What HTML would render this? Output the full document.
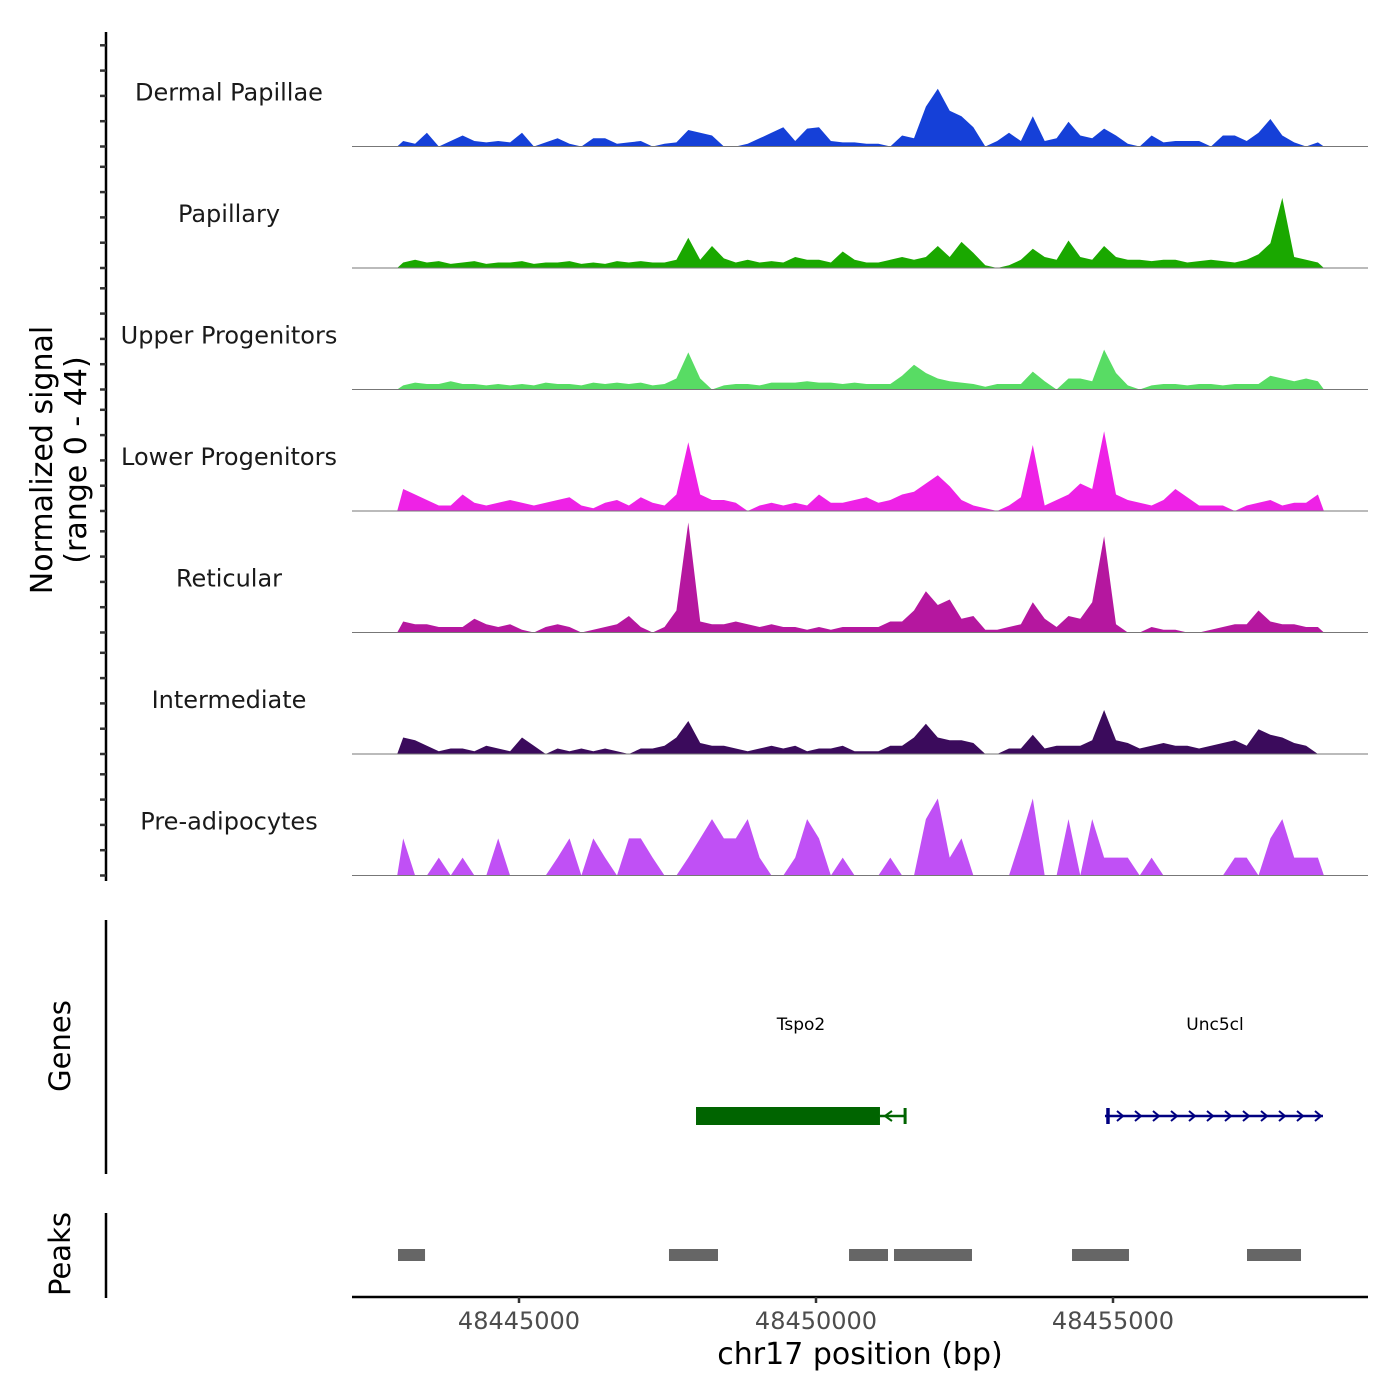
<!DOCTYPE html>
<html><head><meta charset="utf-8"><style>
html,body{margin:0;padding:0;background:#fff;}
svg{display:block;font-family:"DejaVu Sans","Liberation Sans",sans-serif;}
</style></head><body>
<svg id="chart" width="1400" height="1400" viewBox="0 0 1400 1400" xmlns="http://www.w3.org/2000/svg">
<g id="tracks"></g>
<g id="axes"></g>
<g id="genes"></g>
<g id="peaks"></g>
<text transform="translate(52,460) rotate(-90)" text-anchor="middle" font-size="30" fill="#000">Normalized signal</text>
<text transform="translate(86,460) rotate(-90)" text-anchor="middle" font-size="30" fill="#000">(range 0 - 44)</text>
<text transform="translate(70,1046) rotate(-90)" text-anchor="middle" font-size="29" fill="#000">Genes</text>
<text transform="translate(70,1254) rotate(-90)" text-anchor="middle" font-size="29" fill="#000">Peaks</text>
<text x="860" y="1364" text-anchor="middle" font-size="30" fill="#000">chr17 position (bp)</text>
</svg>
<script>
const NS='http://www.w3.org/2000/svg';
const trackNames=["Dermal Papillae","Papillary","Upper Progenitors","Lower Progenitors","Reticular","Intermediate","Pre-adipocytes"];
const trackColors=["#1540d8","#1aa800","#58dc64","#ee22e6","#b5179f","#3b0b5c","#c050f5"];
const binStart=48442950;
const binSize=200;
const dermalPapillae=[2,1,5,0,2,4,2,1.5,2,1.5,5,0,1.5,3,1,0,3,3,1,1.5,2,0,1,1.5,6,5,4,0,0,1,3,5,7,2,6.5,7,2,1.5,1.5,1,1,0,4,3,14.5,21,13,11,7,0,2,5,2,11,2,3,9,4,3,6.5,4,1,0,4,1.5,2,2,2,0,4,4,2,5,10,4,1.5,0,1.5];
const papillary=[2,3,2,2.5,1.5,2,2.5,1.5,2,2,2.5,1.5,2,2,2.5,1.5,2,1.5,2.5,2,2.5,2,2,3,11,3,8,3.5,2,3,2,2.5,2,4,3,3,2,6,3,2,2,3,4,3,4,8,4,9.5,5.5,1,0,1,3,7,4,3,10,4,3,8,4,3,3,2.5,3,3,2,2.5,3,2.5,2,3,5,9,25.5,4,3,2];
const upperProgenitors=[1.5,2.5,2,2,3,2,2,1.5,2,1.5,2,1.5,2.5,2,2,1.5,2.5,2,2.5,2,2.5,1.5,2,4,13.5,4,0,1.5,2,2,1.5,2.5,2.5,2.5,3,2.5,2.5,2,2.5,2,2,2,5,9,6,4,3,2.5,2,1,2,2,2,6.5,3,0,4,4,3,14.5,6,1.5,0,1.5,2,2,1.5,2,2,1.5,2,2,2,5,4,3,4,3];
const lowerProgenitors=[8,6,4,2,2,6,3,2,3,4,3,2,3,4,5,2,1,3,4,2,5,3,2,6,25,6,4,4,3,0,2,3,2,3,2,6,3,3,4,5,3,4,6,7,10,13,9,4,2,1,0,2,5,24,2,4,6,10,8,29,6,4,3,2,4,8,5,2,2,2,0,2,3,4,2,3,3,6];
const reticular=[4,3,3,2,2,2,5,3,2,3,1,0,2,3,2,0,1,2,3,6,2,0,2,8,40,4,3,3,4,3,2,3,2,2,1,2,1,2,2,2,2,4,4,8,15,10,12,5,6,1,1,2,3,11,5,2,6,5,11,35,3,0,0,2,1,1,0,0,1,2,3,3,8,4,3,3,2,2];
const intermediate=[6,5,3,1,2,2,1,3,2,1,6,3,0,2,1,2,1,2,1,0,2,2,3,6,12,4,3,3,2,1,2,3,2,3,1,2,2,3,1,1,1,3,3,6,11,6,5,5,4,0,0,2,2,7,2,3,3,3,5,16,5,4,2,3,4,3,3,2,3,4,5,3,9,7,6,4,3,0];
const preAdipocytes=[13.5,0,0,6.5,0,6.5,0,0,13.5,0,0,0,0,6.5,13.5,0,13.5,6.5,0,13.5,13.5,6.5,0,0,6.5,13.5,20.5,13.5,13.5,20.5,6.5,0,0,6.5,20.5,13.5,0,6.5,0,0,0,6.5,0,0,20.5,28,6.5,13.5,0,0,0,0,13.5,28,0,0,20.5,0,20.5,6.5,6.5,6.5,0,6.5,0,0,0,0,0,0,6.5,6.5,0,13.5,20.5,6.5,6.5,6.5];
const trackData=[dermalPapillae,papillary,upperProgenitors,lowerProgenitors,reticular,intermediate,preAdipocytes];
const trackSlugs=["dermal-papillae","papillary","upper-progenitors","lower-progenitors","reticular","intermediate","pre-adipocytes"];
const yTicks=[0,10,20,30,40];
const xTicks=[48445000,48450000,48455000];
const peakStarts=[48442963,48447525,48450556,48451313,48454310,48457256];
const peakEnds=[48443418,48448350,48451212,48452626,48455269,48458165];
const genes=["Tspo2","Unc5cl"];
const geneStarts=[48447980,48454865];
const geneEnds=[48451500,48458535];
const geneCdsEnds=[48451077,48458535];

const xs=bp=>519+(bp-48445000)*0.0594;
const baseline0=146.5, trackStep=121.5, k=2.75, tickK=2.53;
const ys=(t,v)=>baseline0+t*trackStep-v*k;

const gT=document.getElementById('tracks');
trackData.forEach((arr,t)=>{
  const base=baseline0+t*trackStep;
  let pts=[[xs(binStart),base]];
  arr.forEach((v,i)=>{pts.push([xs(binStart+(i+0.5)*binSize),ys(t,v)]);});
  pts.push([xs(binStart+arr.length*binSize),base]);
  const p=document.createElementNS(NS,'polygon');
  p.setAttribute('points',pts.map(q=>q[0].toFixed(1)+','+q[1].toFixed(1)).join(' '));
  p.setAttribute('fill',trackColors[t]);
  
  
  gT.appendChild(p);
  const l=document.createElementNS(NS,'line');
  l.setAttribute('x1',352);l.setAttribute('x2',1368);l.setAttribute('y1',base);l.setAttribute('y2',base);
  l.setAttribute('stroke','#777');l.setAttribute('stroke-width','1');
  
  
  gT.appendChild(l);
  const tx=document.createElementNS(NS,'text');
  tx.setAttribute('x',229);tx.setAttribute('y',base-46);
  tx.setAttribute('text-anchor','middle');tx.setAttribute('font-size','24');tx.setAttribute('fill','#1a1a1a');
  tx.textContent=trackNames[t];
  
  
  gT.appendChild(tx);
});

const gA=document.getElementById('axes');
function line(g,x1,y1,x2,y2,c,w,name){
  const l=document.createElementNS(NS,'line');
  l.setAttribute('x1',x1);l.setAttribute('y1',y1);l.setAttribute('x2',x2);l.setAttribute('y2',y2);
  l.setAttribute('stroke',c);l.setAttribute('stroke-width',w);
  
  
  g.appendChild(l);return l;
}
line(gA,106,32,106,881,'#000',2.5,'y-axis-line');
for(let t=0;t<7;t++){
  yTicks.forEach(v=>{const y=baseline0+t*trackStep-v*tickK;line(gA,100,y,106,y,'#333',2.5,'y-tick');});
}
line(gA,106,920,106,1174,'#000',2.5,'genes-axis-line');
line(gA,106,1213,106,1298,'#000',2.5,'peaks-axis-line');
line(gA,352,1297,1368,1297,'#000',2.5,'x-axis-line');
xTicks.forEach(v=>{
  line(gA,xs(v),1297,xs(v),1303,'#333',2.5,'x-tick');
  const tx=document.createElementNS(NS,'text');
  tx.setAttribute('x',xs(v));tx.setAttribute('y',1329);tx.setAttribute('text-anchor','middle');
  tx.setAttribute('font-size','24');tx.setAttribute('fill','#4d4d4d');tx.textContent=v;
  
  
  gA.appendChild(tx);
});

const gG=document.getElementById('genes');
(function(){
  const x1=xs(geneStarts[0]),x2=xs(geneEnds[0]),xc=xs(geneCdsEnds[0]);
  const r=document.createElementNS(NS,'rect');
  r.setAttribute('x',x1);r.setAttribute('y',1107);r.setAttribute('width',xc-x1);r.setAttribute('height',18);r.setAttribute('fill','#006400');
  
  
  gG.appendChild(r);
  line(gG,xc,1116,x2,1116,'#006400',2.5,'tspo2-intron');
  line(gG,x2,1108,x2,1124,'#006400',3,'tspo2-end');
  const a=document.createElementNS(NS,'path');
  a.setAttribute('d',`M${xc+12},1111 L${xc+5},1116 L${xc+12},1121`);a.setAttribute('stroke','#006400');a.setAttribute('fill','none');a.setAttribute('stroke-width','2');
  
  
  gG.appendChild(a);
  const tx=document.createElementNS(NS,'text');
  tx.setAttribute('x',801);tx.setAttribute('y',1030);tx.setAttribute('text-anchor','middle');tx.setAttribute('font-size','17');tx.textContent=genes[0];
  
  
  gG.appendChild(tx);
})();
(function(){
  const x1=xs(geneStarts[1]),x2=xs(geneEnds[1]);
  line(gG,x1,1116,x2,1116,'#000080',2.5,'unc5cl-line');
  line(gG,x1+3,1108,x1+3,1124,'#000080',3.5,'unc5cl-start');
  for(let x=x1+12;x<=x2-5;x+=18){
    const a=document.createElementNS(NS,'path');
    a.setAttribute('d',`M${x},1111 L${x+6},1116 L${x},1121`);a.setAttribute('stroke','#000080');a.setAttribute('fill','none');a.setAttribute('stroke-width','2');
    
    
    gG.appendChild(a);
  }
  const tx=document.createElementNS(NS,'text');
  tx.setAttribute('x',1215);tx.setAttribute('y',1030);tx.setAttribute('text-anchor','middle');tx.setAttribute('font-size','17');tx.textContent=genes[1];
  
  
  gG.appendChild(tx);
})();

const gP=document.getElementById('peaks');
peakStarts.forEach((s,i)=>{
  const r=document.createElementNS(NS,'rect');
  r.setAttribute('x',xs(s));r.setAttribute('y',1249);r.setAttribute('width',xs(peakEnds[i])-xs(s));r.setAttribute('height',12);r.setAttribute('fill','#666');
  
  
  gP.appendChild(r);
});
</script>
</body></html>
